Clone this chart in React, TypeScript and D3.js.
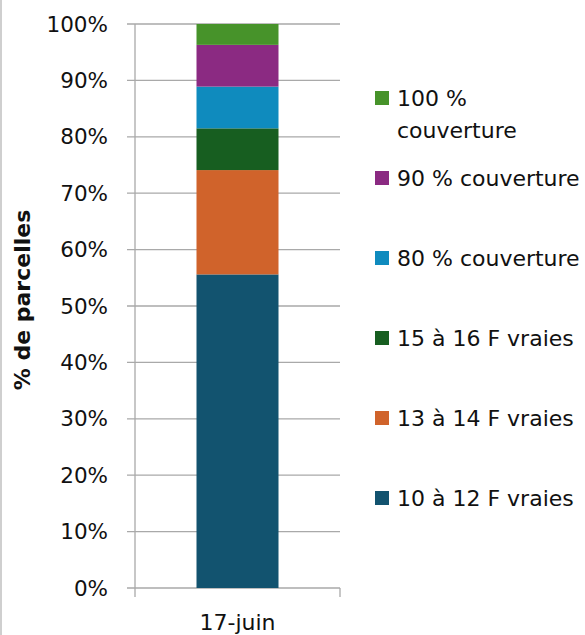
import React from 'react';
import * as d3 from 'd3';

const categories = ['17-juin'];
const seriesNames = [
  '10 à 12 F vraies',
  '13 à 14 F vraies',
  '15 à 16 F vraies',
  '80 % couverture',
  '90 % couverture',
  '100 % couverture',
];
// % of parcels per class, for 17-juin
const values17juin = [55.6, 18.5, 7.4, 7.4, 7.4, 3.7];
const colors = ['#12536F', '#D0632B', '#175E20', '#0F8BBE', '#8B2A82', '#47932A'];
const yTicks = [0, 10, 20, 30, 40, 50, 60, 70, 80, 90, 100];
// legend text lines, top to bottom
const legendLines = [
  ['100 %', 'couverture'],
  ['90 % couverture'],
  ['80 % couverture'],
  ['15 à 16 F vraies'],
  ['13 à 14 F vraies'],
  ['10 à 12 F vraies'],
];

const WIDTH = 585;
const HEIGHT = 635;
const MARGIN = { top: 24, right: 245, bottom: 47, left: 135 };
const FONT = '"DejaVu Sans", Verdana, sans-serif';

export default function App() {
  const boundsWidth = WIDTH - MARGIN.left - MARGIN.right;
  const boundsHeight = HEIGHT - MARGIN.top - MARGIN.bottom;

  const rows = categories.map((c) => {
    const row: Record<string, number | string> = { cat: c };
    seriesNames.forEach((s, i) => (row[s] = values17juin[i]));
    return row;
  });
  const stacked = d3.stack<any>().keys(seriesNames)(rows);

  const yScale = d3.scaleLinear().domain([0, 100]).range([boundsHeight, 0]);
  const xScale = d3
    .scaleBand()
    .domain(categories)
    .range([0, boundsWidth])
    .paddingInner(0.6)
    .paddingOuter(0.3);

  const gridColor = '#A9A9A9';

  return (
    <svg
      width={WIDTH}
      height={HEIGHT}
      style={{ position: 'absolute', left: 0, top: 0, background: '#fff' }}
    >
      <line x1={1} x2={1} y1={0} y2={HEIGHT} stroke="#BFBFBF" strokeWidth={1.5} />
      <g transform={`translate(${MARGIN.left},${MARGIN.top})`}>
        {yTicks.map((t) => (
          <g key={t}>
            <line
              x1={-8}
              x2={boundsWidth}
              y1={yScale(t)}
              y2={yScale(t)}
              stroke={gridColor}
              strokeWidth={1.3}
            />
            <text
              x={-27}
              y={yScale(t)}
              textAnchor="end"
              dominantBaseline="central"
              fontFamily={FONT}
              fontSize={21.5}
              fill="#111"
            >
              {t}%
            </text>
          </g>
        ))}
        <line x1={0} x2={0} y1={0} y2={boundsHeight + 9} stroke={gridColor} strokeWidth={1.3} />
        <line
          x1={boundsWidth}
          x2={boundsWidth}
          y1={boundsHeight}
          y2={boundsHeight + 9}
          stroke={gridColor}
          strokeWidth={1.3}
        />
        {stacked.map((layer, i) =>
          layer.map((d, j) => (
            <rect
              key={`${i}-${j}`}
              x={xScale(categories[j]) ?? 0}
              y={yScale(d[1])}
              width={xScale.bandwidth()}
              height={yScale(d[0]) - yScale(d[1])}
              fill={colors[i]}
            />
          ))
        )}
        {categories.map((c) => (
          <text
            key={c}
            x={(xScale(c) ?? 0) + xScale.bandwidth() / 2}
            y={boundsHeight + 34}
            textAnchor="middle"
            dominantBaseline="central"
            fontFamily={FONT}
            fontSize={22}
            fill="#111"
          >
            {c}
          </text>
        ))}
      </g>
      <text
        transform="translate(22,300) rotate(-90)"
        textAnchor="middle"
        dominantBaseline="central"
        fontFamily={FONT}
        fontWeight="bold"
        fontSize={22}
        fill="#111"
      >
        % de parcelles
      </text>
      <g transform="translate(375,0)">
        {legendLines.map((lines, i) => {
          const cy = 98 + i * 80;
          const colorIdx = seriesNames.length - 1 - i;
          return (
            <g key={i}>
              <rect x={0} y={cy - 7} width={14} height={14} fill={colors[colorIdx]} />
              {lines.map((l, k) => (
                <text
                  key={k}
                  x={22}
                  y={cy + k * 32}
                  dominantBaseline="central"
                  fontFamily={FONT}
                  fontSize={22}
                  fill="#111"
                >
                  {l}
                </text>
              ))}
            </g>
          );
        })}
      </g>
    </svg>
  );
}
